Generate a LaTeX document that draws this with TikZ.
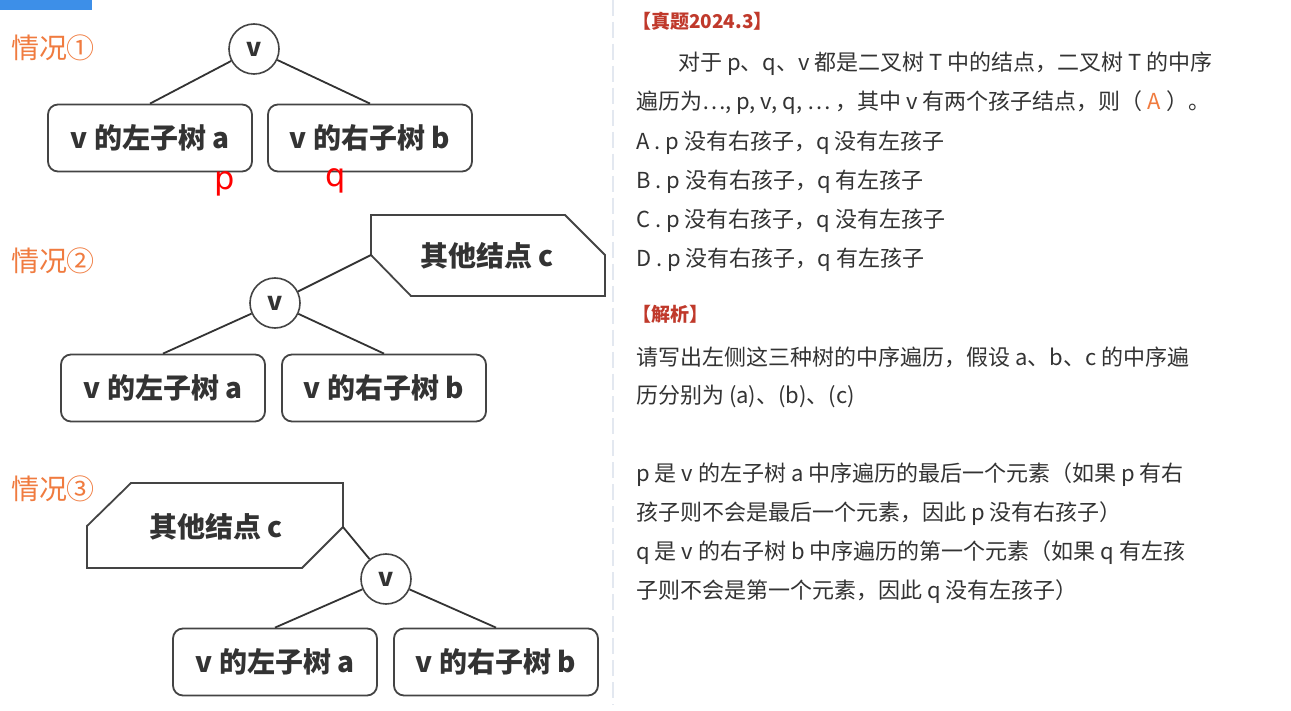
\documentclass[tikz,border=0pt]{standalone}
\usepackage{fontspec}
\setmainfont{Noto Sans CJK SC}
\newfontfamily\hand{DejaVu Sans}
\definecolor{txt}{HTML}{333333}
\definecolor{edge}{HTML}{444444}
\definecolor{orng}{HTML}{F07B3F}
\definecolor{rtitle}{HTML}{C0392B}
\definecolor{sep}{HTML}{E3E8F0}
\definecolor{topblue}{HTML}{3D8FE8}
\tikzset{
  sub/.style={draw=edge, line width=1.8pt, rounded corners=10pt, minimum width=204pt, minimum height=67pt, font=\fontsize{28}{32}\selectfont\bfseries, text=txt, inner sep=0pt},
  vnode/.style={draw=edge, line width=1.6pt, circle, minimum size=50pt, inner sep=0pt, font=\fontsize{25}{28}\selectfont\bfseries, text=txt},
  other/.style={font=\fontsize{28}{32}\selectfont\bfseries, text=txt, inner sep=0pt},
  shapeline/.style={draw=edge, line width=1.8pt, line join=miter},
  conn/.style={draw=txt, line width=1.8pt},
  case/.style={font=\fontsize{28}{32}\selectfont, text=orng, inner sep=0pt},
  rline/.style={anchor=west, font=\fontsize{22}{26}\selectfont, text=txt, inner sep=0pt},
  rhead/.style={anchor=west, font=\fontsize{19}{24}\selectfont\bfseries, text=rtitle, inner sep=0pt},
  redmark/.style={text=red, font=\hand\fontsize{32}{36}\selectfont, inner sep=0pt}
}
\begin{document}
\begin{tikzpicture}[x=1pt,y=-1pt]
\useasboundingbox[fill=white] (0,0) rectangle (1291,711);
% top blue bar (cut off header)
\fill[topblue] (0,0) rectangle (92,10);
% separator
\draw[sep, line width=2.5pt, dash pattern=on 16pt off 6pt] (613,0) -- (613,705);

% ---------- case 1 ----------
\node[case] (k1) at (53,48) {情况①};
\node[vnode] (v1) at (254,49) {v};
\node[sub] (a1) at (150,138) {v 的左子树 a};
\node[sub] (b1) at (370,138) {v 的右子树 b};
\draw[conn] (v1) -- (a1.north);
\draw[conn] (v1) -- (b1.north);
\node[redmark] (p1) at (225,184) {p};
\node[redmark] (q1) at (336,181) {q};

% ---------- case 2 ----------
\node[case] (k2) at (53,261) {情况②};
\draw[shapeline] (371,215) -- (565,215) -- (605,255) -- (605,296) -- (411,296) -- (371,255) -- cycle;
\coordinate (c2) at (371,255);
\node[other] (ct2) at (487,256) {其他结点 c};
\node[vnode] (v2) at (275,303) {v};
\node[sub] (a2) at (163,388) {v 的左子树 a};
\node[sub] (b2) at (384,388) {v 的右子树 b};
\draw[conn] (c2) -- (v2);
\draw[conn] (v2) -- (a2.north);
\draw[conn] (v2) -- (b2.north);

% ---------- case 3 ----------
\node[case] (k3) at (53,489) {情况③};
\draw[shapeline] (131,483) -- (343,483) -- (343,527) -- (302,568) -- (87,568) -- (87,526) -- cycle;
\coordinate (c3) at (343,527);
\node[other] (ct3) at (216,527) {其他结点 c};
\node[vnode] (v3) at (386,579) {v};
\node[sub] (a3) at (275,662) {v 的左子树 a};
\node[sub] (b3) at (496,662) {v 的右子树 b};
\draw[conn] (c3) -- (v3);
\draw[conn] (v3) -- (a3.north);
\draw[conn] (v3) -- (b3.north);

% ---------- right column ----------
\node[rhead] (h1) at (632,21) {【真题2024.3】};
\node[rline] (l1) at (678,64) {对于 p、q、v 都是二叉树 T 中的结点，二叉树 T 的中序};
\node[rline] (l2) at (636,103) {遍历为…, p, v, q, … ，其中 v 有两个孩子结点，则（ \textcolor{orng}{A} ）。};
\node[rline] (oa) at (636,143) {A . p 没有右孩子，q 没有左孩子};
\node[rline] (ob) at (636,182) {B . p 没有右孩子，q 有左孩子};
\node[rline] (oc) at (636,221) {C . p 没有右孩子，q 没有左孩子};
\node[rline] (od) at (636,260) {D . p 没有右孩子，q 有左孩子};
\node[rhead] (h2) at (632,314) {【解析】};
\node[rline] (s1) at (636,357) {请写出左侧这三种树的中序遍历，假设 a、b、c 的中序遍};
\node[rline] (s2) at (636,396) {历分别为 (a)、(b)、(c)};
\node[rline] (s3) at (636,475) {p 是 v 的左子树 a 中序遍历的最后一个元素（如果 p 有右};
\node[rline] (s4) at (636,514) {孩子则不会是最后一个元素，因此 p 没有右孩子）};
\node[rline] (s5) at (636,553) {q 是 v 的右子树 b 中序遍历的第一个元素（如果 q 有左孩};
\node[rline] (s6) at (636,592) {子则不会是第一个元素，因此 q 没有左孩子）};
\end{tikzpicture}
\end{document}
